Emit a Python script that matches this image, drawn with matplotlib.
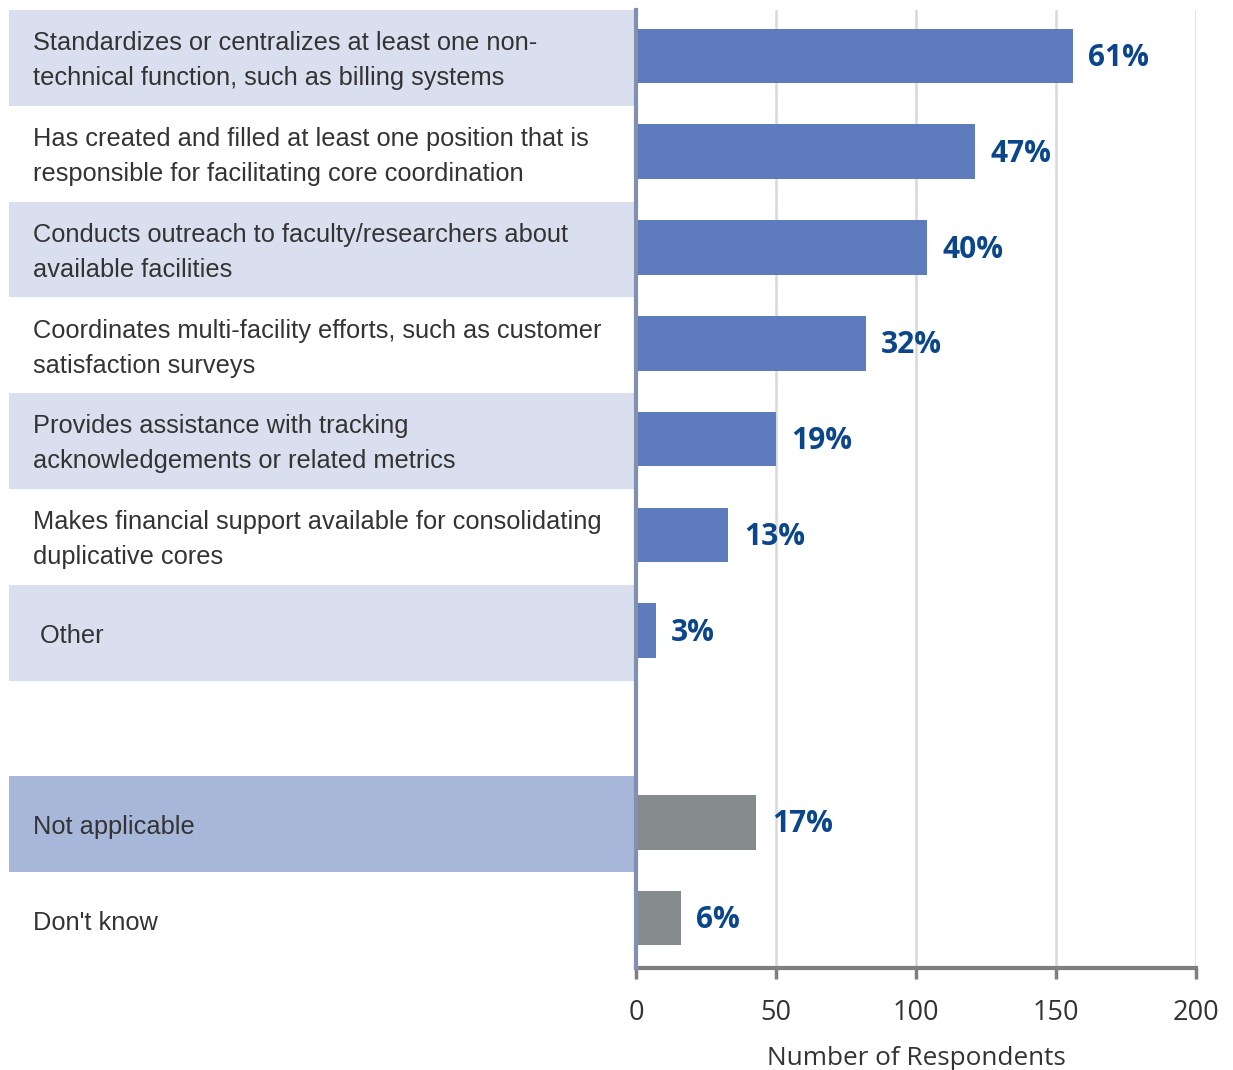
import matplotlib
matplotlib.use("Agg")
import matplotlib.pyplot as plt
from matplotlib.patches import Rectangle
from matplotlib.transforms import blended_transform_factory

categories = [
    "Standardizes or centralizes at least one non-\ntechnical function, such as billing systems",
    "Has created and filled at least one position that is\nresponsible for facilitating core coordination",
    "Conducts outreach to faculty/researchers about\navailable facilities",
    "Coordinates multi-facility efforts, such as customer\nsatisfaction surveys",
    "Provides assistance with tracking\nacknowledgements or related metrics",
    "Makes financial support available for consolidating\nduplicative cores",
    " Other",
    "",
    "Not applicable",
    "Don't know",
]
values = [156, 121, 104, 82, 50, 33, 7, None, 43, 16]
pct_labels = ["61%", "47%", "40%", "32%", "19%", "13%", "3%", "", "17%", "6%"]
bar_colors = ["#5E7BBD"] * 7 + [None] + ["#858A8D"] * 2
band_colors = ["#D9DFEE", None, "#D9DFEE", None, "#D9DFEE", None, "#D9DFEE", None, "#A7B7DA", None]
xticks = [0, 50, 100, 150, 200]

W, H = 1233, 1070
fig = plt.figure(figsize=(W / 100, H / 100), dpi=100)
ax = fig.add_axes([636 / W, 1 - 968 / H, 560 / W, (968 - 10) / H])

n = len(categories)
ax.set_ylim(n - 0.5, -0.5)
ax.set_xlim(0, 200)

trans = blended_transform_factory(ax.transAxes, ax.transData)
x_band_left = (9 - 636) / 560
for i, (cat, bc) in enumerate(zip(categories, band_colors)):
    if bc is not None:
        ax.add_patch(Rectangle((x_band_left, i - 0.5), -x_band_left - 0.004, 1.0,
                               transform=trans, facecolor=bc, edgecolor="none",
                               clip_on=False, zorder=0))
    if cat:
        ax.text((33 - 636) / 560, i + 0.03, cat, transform=trans, ha="left", va="center",
                fontsize=18.3, color="#333333", family="Liberation Sans",
                linespacing=1.58)

for i, (v, c, lab) in enumerate(zip(values, bar_colors, pct_labels)):
    if v is None:
        continue
    ax.barh(i - 0.02, v, height=0.57, color=c, zorder=3)
    ax.text(v + 5.5, i, lab, ha="left", va="center", fontsize=21.5,
            fontweight="bold", color="#0B468A", family="Open Sans", zorder=4)

ax.set_xticks(xticks)
ax.set_xticklabels([str(t) for t in xticks], fontsize=19.5, color="#333333", family="Open Sans")
ax.set_yticks([])
ax.grid(axis="x", color="#D9D9D9", linewidth=1.8, zorder=1)
ax.set_axisbelow(True)
for s in ["top", "right"]:
    ax.spines[s].set_visible(False)
ax.spines["left"].set_color("#8290B0")
ax.spines["left"].set_linewidth(3)
ax.spines["left"].set_zorder(5)
ax.spines["bottom"].set_color("#7F7F7F")
ax.spines["bottom"].set_linewidth(3)
ax.tick_params(axis="x", direction="out", length=8, width=2.5, color="#7F7F7F", pad=14)
ax.set_xlabel("Number of Respondents", fontsize=18.8, color="#333333", family="Open Sans", labelpad=14)

fig.savefig("out.png", dpi=100)
